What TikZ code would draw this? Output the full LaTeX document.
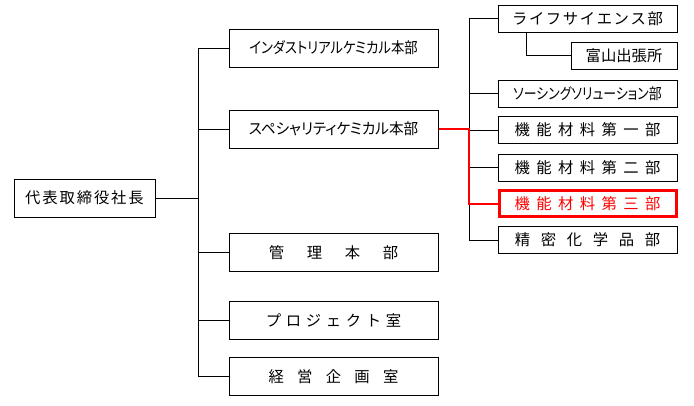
\documentclass[tikz,border=0pt]{standalone}
\usepackage{fontspec}
\setmainfont{Noto Sans CJK JP}
\newfontfamily\jpprop[RawFeature=+palt]{Noto Sans CJK JP}
\usetikzlibrary{calc}
\definecolor{alert}{RGB}{255,0,0}

\begin{document}
\begin{tikzpicture}[x=0.75pt, y=-0.75pt, font=\fontsize{11.5pt}{14pt}\selectfont,
 unit/.style={draw, line width=.75pt, inner sep=0pt, minimum width=156.75pt, minimum height=28.5pt},
 dept/.style={draw, line width=.75pt, inner sep=0pt, minimum width=134.25pt, minimum height=20.25pt},
 focus/.style={dept, draw=alert, line width=2.25pt, text=alert, minimum width=132.75pt, minimum height=19.5pt},
 wire/.style={line width=.75pt},
 hot/.style={draw=alert, line width=1.5pt}]
\useasboundingbox (0,0) rectangle (694,405);
\node[unit, minimum width=105.75pt] (ceo) at (84.5,198) {代\hspace{1.4pt}表\hspace{1.4pt}取\hspace{1.4pt}締\hspace{1.4pt}役\hspace{1.4pt}社\hspace{1.4pt}長};
% head offices
\node[unit] (indus) at (333.5,48) {\scalebox{0.87}[1]{\jpprop インダストリアルケミカル本部}};
\node[unit] (spec) at (333.5,129) {\scalebox{0.95}[1]{\jpprop スペシャリティケミカル本部}};
\node[unit] (kanri) at (333.5,252.5) {管\hspace{17pt}理\hspace{17pt}本\hspace{17pt}部};
\node[unit] (proj) at (333.5,320) {プ\hspace{3.5pt}ロ\hspace{3.5pt}ジ\hspace{3.5pt}ェ\hspace{3.5pt}ク\hspace{3.5pt}ト\hspace{3.5pt}室};
\node[unit] (keiei) at (333.5,376.5) {経\hspace{10pt}営\hspace{10pt}企\hspace{10pt}画\hspace{10pt}室};
% departments
\node[dept] (life) at (587.5,18.5) {ラ\hspace{1.2pt}イ\hspace{1.2pt}フ\hspace{1.2pt}サ\hspace{1.2pt}イ\hspace{1.2pt}エ\hspace{1.2pt}ン\hspace{1.2pt}ス\hspace{1.2pt}部};
\node[dept, minimum width=79.5pt] (toyama) at (624,55.5) {富山出張所};
\node[dept] (sourcing) at (587.5,93.5) {\scalebox{0.84}[1]{\jpprop ソーシングソリューション部}};
\node[dept] (kino1) at (587.5,130) {機\hspace{4.8pt}能\hspace{4.8pt}材\hspace{4.8pt}料\hspace{4.8pt}第\hspace{4.8pt}一\hspace{4.8pt}部};
\node[dept] (kino2) at (587.5,167.5) {機\hspace{4.8pt}能\hspace{4.8pt}材\hspace{4.8pt}料\hspace{4.8pt}第\hspace{4.8pt}二\hspace{4.8pt}部};
\node[focus] (kino3) at (587.5,203.5) {機\hspace{4.8pt}能\hspace{4.8pt}材\hspace{4.8pt}料\hspace{4.8pt}第\hspace{4.8pt}三\hspace{4.8pt}部};
\node[dept] (seimitsu) at (587.5,240) {精\hspace{8pt}密\hspace{8pt}化\hspace{8pt}学\hspace{8pt}品\hspace{8pt}部};
% connectors
\coordinate (trunk) at (198,0);
\coordinate (branch) at (469,0);
\draw[wire] (ceo.east) -- (ceo.east -| trunk);
\draw[wire] (indus.west) -- (indus.west -| trunk) |- (keiei.west);
\foreach \n in {spec,kanri,proj} \draw[wire] (\n.west) -- (\n.west -| trunk);
\draw[wire] (life.west) -- (life.west -| branch) |- (seimitsu.west);
\foreach \n in {sourcing,kino1,kino2} \draw[wire] (\n.west) -- (\n.west -| branch);
\draw[wire] ($(life.south west)+(29,0)$) |- (toyama.west);
\draw[hot] (spec.east) -- (spec.east -| branch) |- (kino3.west);
\end{tikzpicture}
\end{document}
